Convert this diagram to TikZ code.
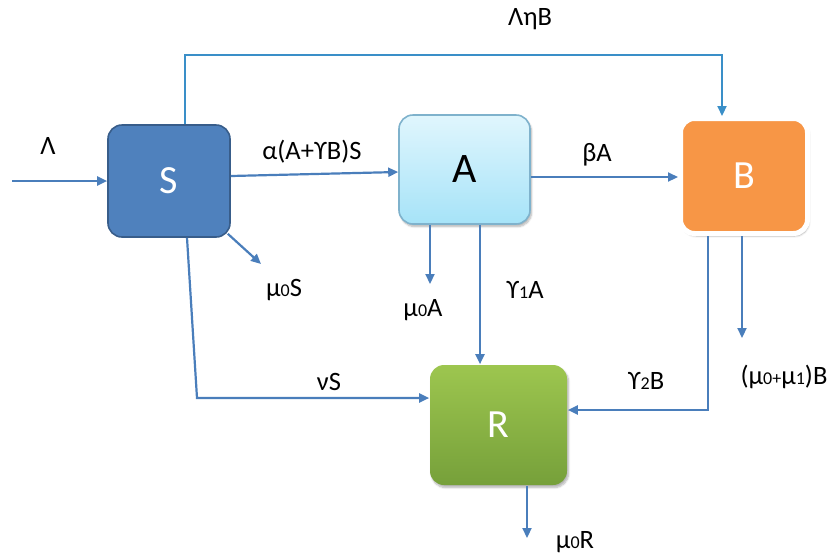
\documentclass[tikz,border=0pt]{standalone}
\usepackage{fontspec}
\setmainfont{Carlito}
\usetikzlibrary{arrows.meta,shadows.blur}
\definecolor{flow}{HTML}{4A7EBB}
\definecolor{feed}{HTML}{3A8FC8}
\definecolor{sfill}{HTML}{4F81BD}
\definecolor{sline}{HTML}{385D8A}
\definecolor{atop}{HTML}{E0F6FD}
\definecolor{abot}{HTML}{A6E3F8}
\definecolor{aline}{HTML}{7FB2CC}
\definecolor{bfill}{HTML}{F79646}
\definecolor{rtop}{HTML}{9DC64F}
\definecolor{rbot}{HTML}{76A03A}
% small inline index digits
\newcommand\ix[1]{{\fontsize{18}{18}\selectfont #1}}
\tikzset{
  compart/.style={rectangle, rounded corners=14pt, line width=1.6pt,
    font=\fontsize{40}{40}\selectfont, inner sep=0pt},
  lbl/.style={font=\fontsize{26.5}{30}\selectfont, inner sep=0pt, text=black},
  arr/.style={draw=flow, line width=2.2pt,
    -{Triangle[length=10pt,width=9pt]}},
  softshadow/.style={blur shadow={shadow xshift=1.5pt, shadow yshift=-2.5pt,
    shadow blur steps=6, shadow opacity=30}}
}
\begin{document}
\begin{tikzpicture}[x=1pt,y=-1pt]
\useasboundingbox (0,0) rectangle (839,558);
% compartments
\node[compart, fill=sfill, draw=sline, text=white,
  minimum width=122pt, minimum height=112pt] (S) at (169,181) {S};
\node[compart, top color=atop, bottom color=abot, draw=aline, text=black,
  softshadow, minimum width=131pt, minimum height=109pt,
  font=\fontsize{42}{42}\selectfont] (A) at (464.5,169.5) {A};
\node[compart, fill=bfill, draw=white, line width=5pt, text=white,
  softshadow, minimum width=127pt, minimum height=115pt] (B) at (744,176) {B};
\node[compart, top color=rtop, bottom color=rbot, draw=none, text=white,
  softshadow, minimum width=137pt, minimum height=120pt] (R) at (498.5,425) {R};
% free ends of the outflows
\coordinate (lin) at (12,181);
\coordinate (tp) at (185,55);
\coordinate (ms) at (261,264);
\coordinate (sv) at (197,398);
\coordinate (ma) at (430,284);
\coordinate (bv) at (708,410);
\coordinate (mb) at (742,338);
\coordinate (mr) at (527,538);
% flows
\draw[arr] (lin) -- (S);
\draw[arr] ([yshift=5pt]S.east) -- ([yshift=-2.5pt]A.west);
\draw[arr] ([yshift=-7.5pt]A.east) -- ([yshift=-7.5pt]A.east -| B.west);
\draw[arr, draw=feed] ([xshift=16pt]S.north) -- (tp) -| ([xshift=-22pt]B.north);
\draw[arr] ([shift={(-3pt,4pt)}]S.south east) -- (ms);
\draw[arr] ([xshift=18pt]S.south) -- (sv) -- (sv -| R.west);
\draw[arr] ([xshift=-34.5pt]A.south) -- (ma);
\draw[arr] ([xshift=15.5pt]A.south) -- ([xshift=15.5pt]A.south |- R.north);
\draw[arr] ([xshift=-36pt]B.south) -- (bv) -- (bv -| R.east);
\draw[arr] ([xshift=-2pt]B.south) -- (mb);
\draw[arr] ([xshift=28.5pt]R.south) -- (mr);
% rates
\node[lbl] (lLam) at (48,146) {Λ};
\node[lbl] (lInf) at (312,152) {α(A+ϒB)S};
\node[lbl] (lBeta) at (597,155) {βA};
\node[lbl] (lEta) at (530,19) {ΛηB};
\node[lbl] (lmS) at (284,290) {μ\ix{0}S};
\node[lbl] (lmA) at (423,310) {μ\ix{0}A};
\node[lbl] (lgA) at (525,290) {ϒ\ix{1}A};
\node[lbl] (lnu) at (329,382) {νS};
\node[lbl] (lgB) at (646,381) {ϒ\ix{2}B};
\node[lbl] (lmB) at (784,377) {(μ\ix{0+}μ\ix{1})B};
\node[lbl] (lmR) at (575,542) {μ\ix{0}R};
\end{tikzpicture}
\end{document}
